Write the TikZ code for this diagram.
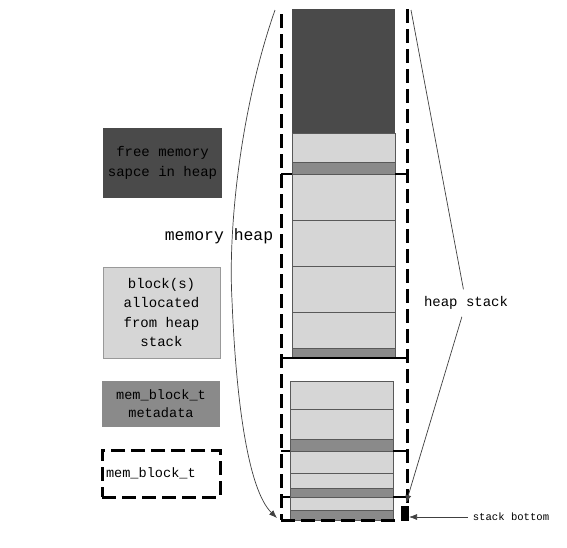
\documentclass[tikz,border=0pt]{standalone}
\usepackage{fontspec}
\setmonofont{Liberation Mono}
\usetikzlibrary{arrows.meta}
\definecolor{darkfill}{HTML}{4A4A4A}
\definecolor{lightfill}{HTML}{D6D6D6}
\definecolor{midfill}{HTML}{8A8A8A}
\begin{document}
\begin{tikzpicture}[x=1pt,y=-1pt,
  txt/.style={font=\ttfamily\fontsize{14}{19.4}\selectfont, align=center, inner sep=0pt, text=black},
  legend/.style={txt, minimum width=118pt},
  cell/.style={draw=black!65, line width=0.6pt},
  dashline/.style={line width=3pt, dash pattern=on 14pt off 6pt},
  tick/.style={line width=2.2pt},
  arrowline/.style={draw=black!75, line width=0.7pt, -{Latex[length=8pt,width=6pt]}},
  plainline/.style={draw=black!75, line width=0.7pt}
]
\useasboundingbox (0,0) rectangle (567,547);
\fill[white] (0,0) rectangle (567,547);

% ---- legend ----
\node[legend, fill=darkfill, minimum width=119pt, minimum height=70pt] (lfree) at (162.5,163) {free memory\\sapce in heap};
\node[legend, fill=lightfill, draw=black!40, line width=0.6pt, minimum width=117pt, minimum height=91pt] (lalloc) at (161.5,312.5) {block(s)\\allocated\\from heap\\stack};
\node[legend, fill=midfill, font=\ttfamily\fontsize{13.6}{18}\selectfont, minimum height=46pt] (lmeta) at (161,404) {mem\_block\_t\\metadata};
\node[txt, font=\ttfamily\fontsize{13.6}{18}\selectfont, draw, dashline, text width=110pt, align=left, inner xsep=4pt, minimum height=47pt] (ldash) at (161,473.5) {mem\_block\_t};

% ---- upper column ----
\fill[darkfill] (292,9) rectangle (395,133);
\filldraw[cell, fill=lightfill] (292,133) rectangle (395,162);
\filldraw[cell, fill=midfill] (292,162) rectangle (395,174);
\filldraw[cell, fill=lightfill] (292,174) rectangle (395,220);
\filldraw[cell, fill=lightfill] (292,220) rectangle (395,266);
\filldraw[cell, fill=lightfill] (292,266) rectangle (395,312);
\filldraw[cell, fill=lightfill] (292,312) rectangle (395,348);
\filldraw[cell, fill=midfill] (292,348) rectangle (395,358);

% ---- lower column ----
\filldraw[cell, fill=lightfill] (290,381) rectangle (393,409);
\filldraw[cell, fill=lightfill] (290,409) rectangle (393,439);
\filldraw[cell, fill=midfill] (290,439) rectangle (393,451);
\filldraw[cell, fill=lightfill] (290,451) rectangle (393,473);
\filldraw[cell, fill=lightfill] (290,473) rectangle (393,488);
\filldraw[cell, fill=midfill] (290,488) rectangle (393,497);
\filldraw[cell, fill=lightfill] (290,497) rectangle (393,510);
\filldraw[cell, fill=midfill] (290,510) rectangle (393,520);

% ---- mem_block_t dashed frames ----
\draw[dashline] (281,14) -- (281,520);
\draw[dashline] (407,9) -- (407,520);
\draw[dashline] (281,520) -- (400,520);
\draw[tick] (281,174) -- (292,174);
\draw[tick] (395,174) -- (407,174);
\draw[tick] (281,358) -- (407,358);
\draw[tick] (281,451) -- (290,451);
\draw[tick] (393,451) -- (407,451);
\draw[tick] (281,497) -- (290,497);
\draw[tick] (393,497) -- (407,497);
\fill[black] (401,506) rectangle (409,521);

% ---- memory heap ----
\node[txt, font=\ttfamily\fontsize{16.4}{18}\selectfont] (mh) at (219,236) {memory heap};
\coordinate (mhTop) at (275,10);
\coordinate (mhBot) at (277,518);
\draw[arrowline] (mhTop) .. controls (240,110) and (228,230) .. (232,300) .. controls (236,400) and (248,490) .. (mhBot);

% ---- heap stack ----
\node[txt, fill=white, inner xsep=2pt, inner ysep=7pt] (hs) at (466,303) {heap stack};
\coordinate (hsTop) at (411,10);
\coordinate (hsBot) at (406,503);
\draw[plainline] (hs) -- (hsTop);
\draw[arrowline] (hs) -- (hsBot);

% ---- stack bottom ----
\node[txt, font=\ttfamily\fontsize{10.6}{12}\selectfont, inner xsep=5pt] (sb) at (511,517) {stack bottom};
\coordinate (sbTip) at (409,517);
\draw[arrowline] (sb.west) -- (sbTip);
\end{tikzpicture}
\end{document}
